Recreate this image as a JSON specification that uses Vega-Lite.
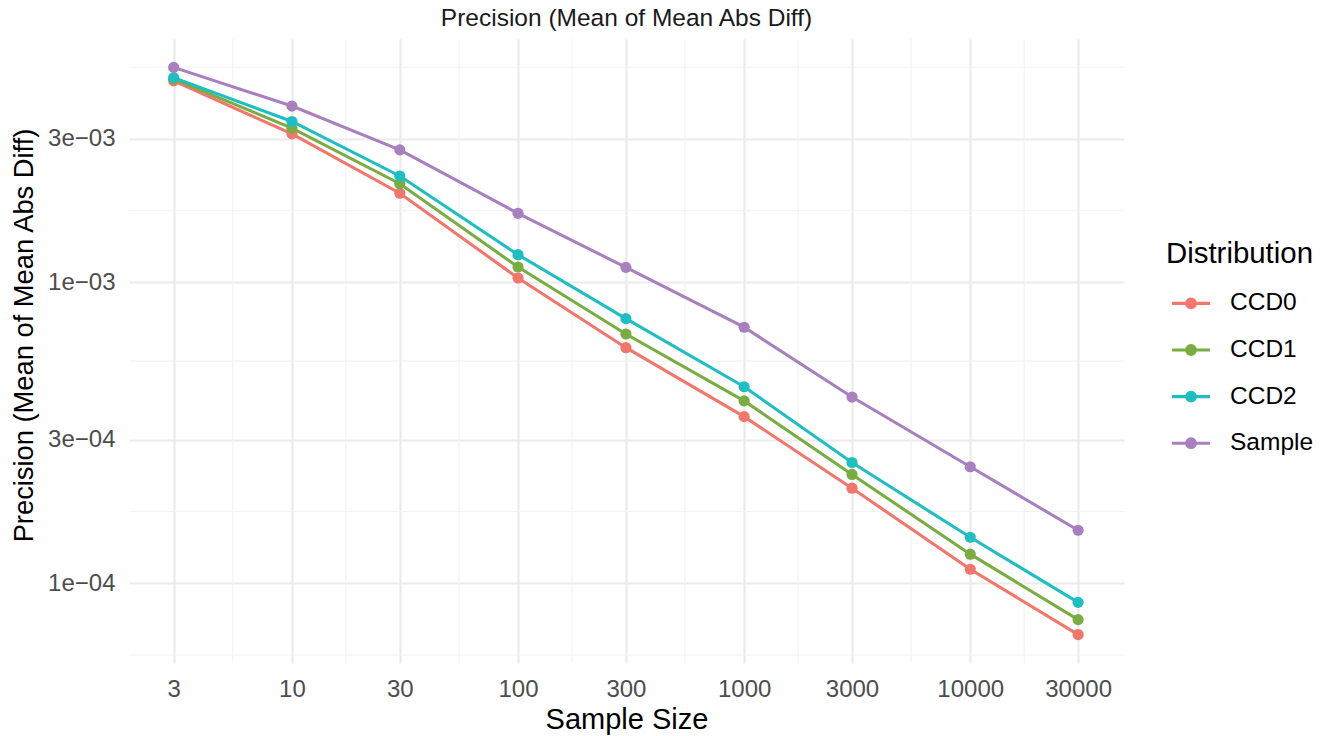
{
  "$schema": "https://vega.github.io/schema/vega-lite/v6.json",
  "width": 995,
  "height": 624,
  "autosize": {"type": "none"},
  "padding": {"left": 129, "top": 39, "right": 207, "bottom": 73},
  "background": "white",
  "title": {
    "text": "Precision (Mean of Mean Abs Diff)",
    "anchor": "middle",
    "frame": "group",
    "font": "Liberation Sans",
    "fontSize": 24.5,
    "fontWeight": "normal",
    "color": "#1A1A1A",
    "baseline": "alphabetic",
    "offset": -12
  },
  "config": {
    "view": {"stroke": null},
    "font": "Liberation Sans"
  },
  "layer": [
    {
      "data": {"values": [
        {"size": 5.477}, {"size": 17.32}, {"size": 54.77}, {"size": 173.2},
        {"size": 547.7}, {"size": 1732}, {"size": 5477}, {"size": 17321}
      ]},
      "mark": {"type": "rule", "color": "#F2F2F2", "strokeWidth": 1.1},
      "encoding": {
        "x": {"field": "size", "type": "quantitative", "scale": {"type": "log", "domain": [1.903, 47870], "nice": false, "zero": false}}
      }
    },
    {
      "data": {"values": [
        {"value": 0.00005774}, {"value": 0.0001732}, {"value": 0.0005477}, {"value": 0.001732}, {"value": 0.005196}
      ]},
      "mark": {"type": "rule", "color": "#F2F2F2", "strokeWidth": 1.1},
      "encoding": {
        "y": {"field": "value", "type": "quantitative", "scale": {"type": "log", "domain": [0.0000543, 0.00645], "nice": false, "zero": false}}
      }
    },
    {
      "data": {"name": "main", "values": [
        {"size": 3, "dist": "CCD0", "value": 0.00468},
        {"size": 10, "dist": "CCD0", "value": 0.00312},
        {"size": 30, "dist": "CCD0", "value": 0.00198},
        {"size": 100, "dist": "CCD0", "value": 0.001035},
        {"size": 300, "dist": "CCD0", "value": 0.000607},
        {"size": 1000, "dist": "CCD0", "value": 0.000358},
        {"size": 3000, "dist": "CCD0", "value": 0.000207},
        {"size": 10000, "dist": "CCD0", "value": 0.0001113},
        {"size": 30000, "dist": "CCD0", "value": 0.0000675},
        {"size": 3, "dist": "CCD1", "value": 0.00475},
        {"size": 10, "dist": "CCD1", "value": 0.00326},
        {"size": 30, "dist": "CCD1", "value": 0.00213},
        {"size": 100, "dist": "CCD1", "value": 0.001126},
        {"size": 300, "dist": "CCD1", "value": 0.000674},
        {"size": 1000, "dist": "CCD1", "value": 0.000404},
        {"size": 3000, "dist": "CCD1", "value": 0.00023},
        {"size": 10000, "dist": "CCD1", "value": 0.0001249},
        {"size": 30000, "dist": "CCD1", "value": 0.0000757},
        {"size": 3, "dist": "CCD2", "value": 0.0048},
        {"size": 10, "dist": "CCD2", "value": 0.00343},
        {"size": 30, "dist": "CCD2", "value": 0.00226},
        {"size": 100, "dist": "CCD2", "value": 0.001237},
        {"size": 300, "dist": "CCD2", "value": 0.000758},
        {"size": 1000, "dist": "CCD2", "value": 0.00045},
        {"size": 3000, "dist": "CCD2", "value": 0.000252},
        {"size": 10000, "dist": "CCD2", "value": 0.0001422},
        {"size": 30000, "dist": "CCD2", "value": 0.0000864},
        {"size": 3, "dist": "Sample", "value": 0.00519},
        {"size": 10, "dist": "Sample", "value": 0.00386},
        {"size": 30, "dist": "Sample", "value": 0.00276},
        {"size": 100, "dist": "Sample", "value": 0.001698},
        {"size": 300, "dist": "Sample", "value": 0.001123},
        {"size": 1000, "dist": "Sample", "value": 0.00071},
        {"size": 3000, "dist": "Sample", "value": 0.000416},
        {"size": 10000, "dist": "Sample", "value": 0.000244},
        {"size": 30000, "dist": "Sample", "value": 0.00015}
      ]},
      "layer": [
        {
          "mark": {"type": "line", "strokeWidth": 3.1},
          "encoding": {
            "x": {
              "field": "size", "type": "quantitative",
              "scale": {"type": "log", "domain": [1.903, 47870], "nice": false, "zero": false},
              "axis": {
                "values": [3, 10, 30, 100, 300, 1000, 3000, 10000, 30000],
                "format": "d",
                "grid": true, "gridColor": "#EBEBEB", "gridWidth": 2.2,
                "domain": false, "ticks": false, "tickSize": 0,
                "labelFont": "Liberation Sans", "labelFontSize": 24, "labelColor": "#4D4D4D",
                "labelPadding": 14, "labelFlush": false, "labelOverlap": false,
                "title": "Sample Size", "titleFont": "Liberation Sans", "titleFontSize": 29,
                "titleFontWeight": "normal", "titleColor": "#000000", "titlePadding": 4
              }
            },
            "y": {
              "field": "value", "type": "quantitative",
              "scale": {"type": "log", "domain": [0.0000543, 0.00645], "nice": false, "zero": false},
              "axis": {
                "values": [0.0001, 0.0003, 0.001, 0.003],
                "labelExpr": "datum.value < 0.0002 ? '1e\u221204' : datum.value < 0.0005 ? '3e\u221204' : datum.value < 0.002 ? '1e\u221203' : '3e\u221203'",
                "grid": true, "gridColor": "#EBEBEB", "gridWidth": 2.2,
                "domain": false, "ticks": false, "tickSize": 0,
                "labelFont": "Liberation Sans", "labelFontSize": 24, "labelColor": "#4D4D4D",
                "labelPadding": 14, "labelFlush": false, "labelOverlap": false,
                "title": "Precision (Mean of Mean Abs Diff)", "titleFont": "Liberation Sans", "titleFontSize": 27.3,
                "titleFontWeight": "normal", "titleColor": "#000000", "titlePadding": 9,
                "titleY": 296
              }
            },
            "color": {
              "field": "dist", "type": "nominal",
              "scale": {"domain": ["CCD0", "CCD1", "CCD2", "Sample"], "range": ["#F2766B", "#79AD41", "#1FBEC3", "#A880BF"]},
              "legend": {
                "title": "Distribution",
                "orient": "none", "legendX": 1037, "legendY": 201,
                "padding": 0,
                "titleFont": "Liberation Sans", "titleFontSize": 29.4, "titleFontWeight": "normal", "titleColor": "#000000", "titlePadding": 13,
                "labelFont": "Liberation Sans", "labelFontSize": 24.5, "labelColor": "#000000", "labelOffset": 18,
                "symbolType": "M-1,0H1M-0.23,0A0.23,0.23 0 1,0 0.23,0A0.23,0.23 0 1,0 -0.23,0Z",
                "symbolSize": 1444, "symbolStrokeWidth": 3.1, "symbolOffset": 4,
                "rowPadding": 13.6,
                "encode": {"symbols": {"update": {
                  "fill": {"scale": "color", "field": "value"},
                  "stroke": {"scale": "color", "field": "value"},
                  "opacity": {"value": 1}
                }}}
              }
            }
          }
        },
        {
          "mark": {"type": "point", "filled": true, "size": 125, "opacity": 1},
          "encoding": {
            "x": {"field": "size", "type": "quantitative"},
            "y": {"field": "value", "type": "quantitative"},
            "color": {"field": "dist", "type": "nominal"}
          }
        }
      ]
    }
  ]
}
